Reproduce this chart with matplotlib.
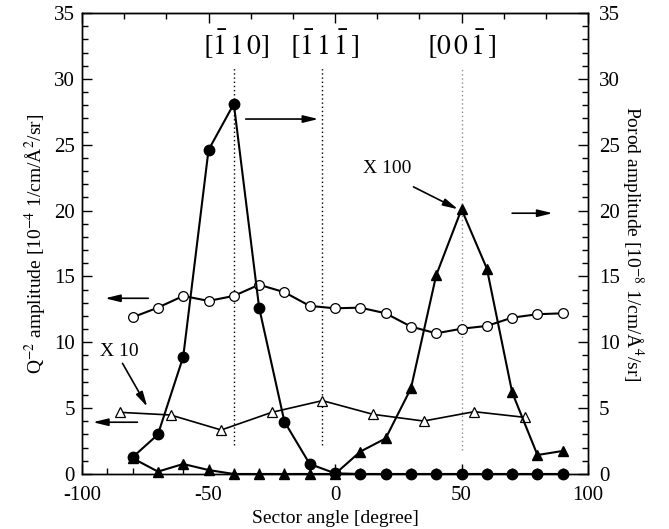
import numpy as np
import matplotlib
matplotlib.use("Agg")
import matplotlib.pyplot as plt
from matplotlib.ticker import MultipleLocator

plt.rcParams['font.family'] = ['Liberation Serif', 'DejaVu Serif']
plt.rcParams['mathtext.fontset'] = 'stix'
plt.rcParams['axes.unicode_minus'] = False

# ---- data ----
angle_q2 = [-80, -70, -60, -50, -40, -30, -20, -10, 0, 10, 20, 30, 40, 50, 60, 70, 80, 90]
q2_amp = [11.9, 12.63, 13.52, 13.14, 13.52, 14.37, 13.8, 12.76, 12.58,
          12.63, 12.2, 11.19, 10.68, 11.03, 11.24, 11.87, 12.13, 12.2]

angle_q2x10 = [-85, -65, -45, -25, -5, 15, 35, 55, 75]
q2_amp_x10 = [4.68, 4.48, 3.34, 4.68, 5.57, 4.53, 4.02, 4.73, 4.3]

angle_porod = [-80, -70, -60, -50, -40, -30, -20, -10, 0, 10, 20, 30, 40, 50, 60, 70, 80, 90]
porod_a = [1.27, 3.0, 8.9, 24.6, 28.1, 12.63, 3.97, 0.76, 0.05,
           0, 0, 0, 0, 0, 0, 0, 0, 0]
porod_b = [1.2, 0.18, 0.76, 0.3, 0, 0, 0, 0, 0,
           1.7, 2.7, 6.5, 15.1, 20.1, 15.6, 6.2, 1.44, 1.75]

direction_angles = [-40, -5, 50]
direction_labels = [r'$\left[\bar{1}\,1\,0\right]$',
                    r'$\left[\bar{1}\,1\,\bar{1}\,\right]$',
                    r'$\left[0\,0\,\bar{1}\,\right]$']
direction_label_x = [-39, -4, 50]

fig = plt.figure(figsize=(6.69, 5.29), dpi=100)
ax = fig.add_axes([0.1226, 0.104, 0.7564, 0.8714])
ax2 = ax.twinx()

for a in (ax, ax2):
    a.set_xlim(-100, 100)
    a.set_ylim(0, 35)

# dotted direction lines
dcolors = ['black', 'black', '0.55']
for xa, c, y0 in zip(direction_angles, dcolors, [2.2, 2.2, 1.8]):
    ax.plot([xa, xa], [y0, 30.8], linestyle=(0, (1, 2)), color=c, lw=1.0, zorder=1)
for xl, lab in zip(direction_label_x, direction_labels):
    ax.text(xl, 32.6, lab, ha='center', va='center', fontsize=20)

lw = 1.5
ax.plot(angle_q2, q2_amp, '-o', color='black', mfc='white', mec='black', ms=7, mew=0.9, lw=lw, zorder=3, clip_on=False)
ax.plot(angle_q2x10, q2_amp_x10, '-^', color='black', mfc='white', mec='black', ms=7, mew=0.9, lw=1.2, zorder=3, clip_on=False)
ax2.plot(angle_porod, porod_b, '-^', color='black', mfc='black', ms=7, lw=lw, zorder=3, clip_on=False)
ax2.plot(angle_porod, porod_a, '-o', color='black', mfc='black', ms=7.5, lw=lw, zorder=4, clip_on=False)

# arrows
ap = dict(arrowstyle='-|>,head_length=0.9,head_width=0.22', color='black', lw=1.2, shrinkA=0, shrinkB=0)
arrows = [((-73.8, 13.34), (-90.9, 13.34)),
          ((-35.3, 26.95), (-6.6, 26.95)),
          ((-78.1, 3.93), (-95.7, 3.93)),
          ((70, 19.8), (86, 19.8)),
          ((31, 21.8), (48.6, 20.1)),
          ((-84, 8.4), (-74.2, 5.1))]
for (s, e) in arrows:
    ax2.annotate('', xy=e, xytext=s, arrowprops=ap, zorder=5)

ax2.text(20.5, 23.2, 'X 100', ha='center', va='center', fontsize=14)
ax2.text(-93, 9.3, 'X 10', ha='left', va='center', fontsize=14)

# ticks
ax.xaxis.set_major_locator(MultipleLocator(50))
ax.xaxis.set_minor_locator(MultipleLocator(10))
for a in (ax, ax2):
    a.yaxis.set_major_locator(MultipleLocator(5))
    a.yaxis.set_minor_locator(MultipleLocator(1))
ax.tick_params(axis='both', which='major', direction='in', length=7, width=1, labelsize=15, top=False)
ax.tick_params(axis='both', which='minor', direction='in', length=4, width=1, top=False)
ax.tick_params(axis='x', pad=9)
ax.tick_params(axis='y', pad=5)
ax2.tick_params(axis='y', which='major', direction='in', length=7, width=1, labelsize=15, pad=8)
ax2.tick_params(axis='y', which='minor', direction='in', length=4, width=1)

sec = ax.secondary_xaxis('top')
sec.xaxis.set_major_locator(MultipleLocator(50))
sec.xaxis.set_minor_locator(MultipleLocator(50 / 3))
sec.tick_params(which='major', direction='in', length=7, width=1, labeltop=False)
sec.tick_params(which='minor', direction='in', length=4, width=1)

ax.set_xlabel('Sector angle [degree]', fontsize=14, labelpad=3)
ax.set_ylabel(r'Q$^{-2}$ amplitude [10$^{-4}$ 1/cm/Å$^{2}$/sr]', fontsize=14, labelpad=4)
ax2.set_ylabel(r'Porod amplitude [10$^{-8}$ 1/cm/Å$^{4}$/sr]', fontsize=14, rotation=270, labelpad=18)

for a in (ax, ax2):
    for sp in a.spines.values():
        sp.set_linewidth(1.0)

fig.savefig('out.png', dpi=100)
